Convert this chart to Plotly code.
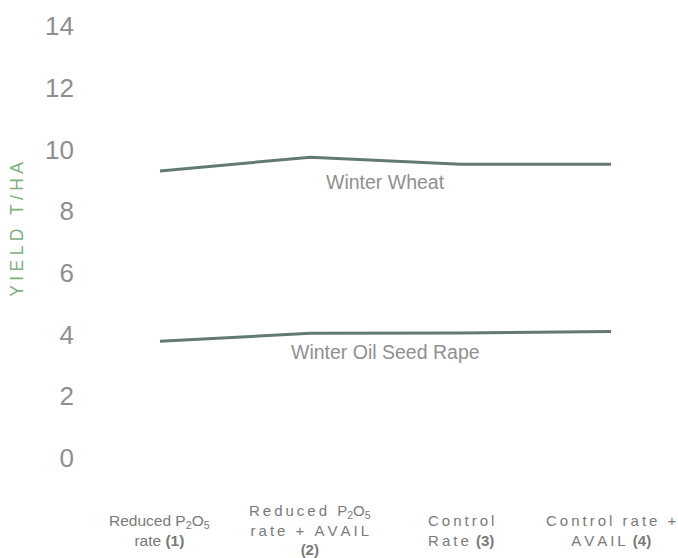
import plotly.graph_objects as go

# ---- data ----
categories = [0, 1, 2, 3]
wheat_yield = [9.3, 9.75, 9.52, 9.52]
osr_yield = [3.78, 4.04, 4.05, 4.1]
y_ticks = [0, 2, 4, 6, 8, 10, 12, 14]
series_names = ["Winter Wheat", "Winter Oil Seed Rape"]
series_label_y = [8.95, 3.45]

TS = "\u2009"  # thin space used for letter spacing


def sp(s, gap=TS):
    return gap.join(list(s))


x_labels = [
    "Reduced P<sub>2</sub>O<sub>5</sub><br>rate <b>(1)</b>",
    sp("Reduced P") + "<sub>2</sub>" + sp("O") + "<sub>5</sub><br>" + sp("rate + AVAIL") + "<br><b>(2)</b>",
    sp("Control") + "<br>" + sp("Rate ") + "<b>(3)</b>",
    sp("Control rate +") + "<br>" + sp("AVAIL ") + "<b>(4)</b>",
]
x_label_sizes = [15.5, 15, 15, 15]

line_color = "#627a70"
text_gray = "#8f8f8f"

fig = go.Figure()
for vals in (wheat_yield, osr_yield):
    fig.add_trace(go.Scatter(
        x=categories, y=vals, mode="lines",
        line=dict(color=line_color, width=3),
        showlegend=False, hoverinfo="skip",
    ))

for name, yv in zip(series_names, series_label_y):
    fig.add_annotation(
        x=1.5, y=yv, xref="x", yref="y", text=name, showarrow=False,
        font=dict(size=19.5, color=text_gray), xanchor="center", yanchor="middle",
    )

for cx, lab, fs in zip(categories, x_labels, x_label_sizes):
    fig.add_annotation(
        x=cx, y=-0.167, xref="x", yref="paper", text=lab, showarrow=False,
        font=dict(size=fs, color="#7a7a7a"), xanchor="center", yanchor="middle",
        align="center",
    )

fig.update_layout(
    width=678, height=558,
    margin=dict(l=100, r=8, t=26, b=99.5),
    paper_bgcolor="white", plot_bgcolor="white",
    font=dict(family="Liberation Sans, Arial, sans-serif"),
    xaxis=dict(
        range=[-0.399, 3.392], showgrid=False, zeroline=False,
        showticklabels=False, ticks="", showline=False,
    ),
    yaxis=dict(
        range=[0, 14], tickvals=y_ticks, ticktext=[str(v) for v in y_ticks],
        showgrid=False, zeroline=False, showline=False, ticks="",
        tickfont=dict(size=26, color=text_gray), ticklabelstandoff=25,
        title=dict(text='<span style="color:rgba(255,255,255,0)">HH</span>' + sp("YIELD T/HA", "\u2005"),
                   font=dict(size=17.5, color="#7fae7f"), standoff=16),
    ),
)

fig.write_html(
    "out.html",
    config={"displayModeBar": False},
    post_script="document.body.style.margin='0';document.body.style.overflow='hidden';",
)
